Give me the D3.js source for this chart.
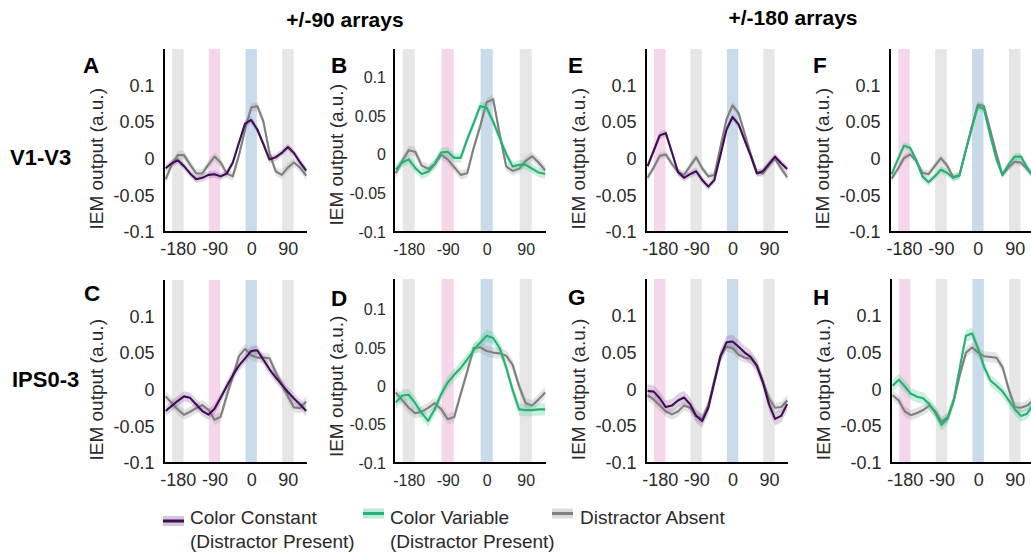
<!DOCTYPE html>
<html><head><meta charset="utf-8">
<script src="https://cdn.jsdelivr.net/npm/d3@7"></script>
<style>
body{margin:0;background:#fff;}
svg{display:block;}
text{font-family:"Liberation Sans",Arial,Helvetica,sans-serif;}
</style>
</head><body>
<svg id="chart" width="1031" height="554"></svg>
<script>
// ---------------- DATA ----------------
const angles = [-210,-195,-180,-165,-150,-135,-120,-105,-90,-75,-60,-45,-30,-15,0,15,30,45,60,75,90,105,120,135];
const xTicks = [-180,-90,0,90];
const xTickLabels = ["-180","-90","0","90"];
const yTicks = [-0.1,-0.05,0,0.05,0.1];
const yTickLabels = ["-0.1","-0.05","0","0.05","0.1"];
const bandCenters = [-180,-90,0,90];
const bands90 = ["grey","pink","blue","grey"];
const bands180 = ["pink","grey","blue","grey"];

const columnTitles = ["+/-90 arrays","+/-180 arrays"];
const rowTitles = ["V1-V3","IPS0-3"];
const seriesNames = ["Color Constant","Color Variable","Distractor Absent"];
const seriesNotes = ["(Distractor Present)","(Distractor Present)",""];

// V1-V3, +/-90
const A_constant = [-0.013,-0.006,-0.002,-0.010,-0.020,-0.028,-0.026,-0.022,-0.021,-0.024,-0.020,-0.005,0.022,0.048,0.053,0.040,0.020,-0.001,0.002,0.008,0.016,0.008,-0.005,-0.016];
const A_absent   = [-0.028,-0.008,0.005,0.005,-0.008,-0.020,-0.020,-0.008,0.003,-0.005,-0.020,-0.024,0.005,0.040,0.070,0.072,0.051,0.008,-0.017,-0.022,-0.012,-0.005,-0.012,-0.023];
const B_variable = [-0.019,-0.010,-0.006,-0.017,-0.025,-0.022,-0.012,0.003,0.004,-0.004,-0.004,0.020,0.041,0.063,0.061,0.043,0.022,0.001,-0.015,-0.013,-0.013,-0.018,-0.023,-0.025];
const B_absent   = [-0.024,-0.008,0.006,0.004,-0.014,-0.018,-0.012,0.000,-0.006,-0.016,-0.026,-0.024,0.009,0.037,0.068,0.072,0.027,-0.015,-0.021,-0.018,-0.008,-0.002,-0.010,-0.020];
// V1-V3, +/-180
const E_constant = [-0.010,0.011,0.032,0.035,0.009,-0.018,-0.026,-0.021,-0.017,-0.029,-0.038,-0.029,0.005,0.040,0.057,0.047,0.025,0.004,-0.020,-0.017,-0.007,0.003,-0.006,-0.014];
const E_absent   = [-0.026,-0.012,0.004,0.006,-0.007,-0.018,-0.022,-0.010,0.002,-0.013,-0.024,-0.022,0.016,0.054,0.073,0.062,0.034,0.006,-0.018,-0.020,-0.009,0.000,-0.013,-0.025];
const F_variable = [-0.021,-0.001,0.018,0.015,-0.002,-0.024,-0.032,-0.024,-0.015,-0.019,-0.026,-0.023,0.010,0.041,0.071,0.068,0.033,0.000,-0.022,-0.008,0.003,0.003,-0.012,-0.024];
const F_absent   = [-0.027,-0.014,0.001,0.006,-0.003,-0.019,-0.021,-0.010,0.001,-0.009,-0.025,-0.023,0.010,0.043,0.074,0.072,0.040,0.008,-0.022,-0.012,-0.004,-0.005,-0.014,-0.023];
// IPS0-3, +/-90
const C_constant = [-0.029,-0.022,-0.015,-0.009,-0.011,-0.020,-0.029,-0.034,-0.026,-0.011,0.005,0.020,0.033,0.043,0.053,0.054,0.041,0.028,0.017,0.007,-0.003,-0.012,-0.020,-0.029];
const C_absent   = [-0.009,-0.018,-0.027,-0.034,-0.030,-0.025,-0.021,-0.027,-0.041,-0.037,-0.008,0.018,0.046,0.056,0.047,0.044,0.044,0.043,0.024,0.008,-0.009,-0.024,-0.025,-0.016];
const D_variable = [-0.021,-0.012,-0.011,-0.022,-0.035,-0.045,-0.030,-0.010,0.005,0.015,0.024,0.035,0.047,0.057,0.066,0.063,0.050,0.025,-0.005,-0.030,-0.031,-0.031,-0.030,-0.030];
const D_absent   = [-0.008,-0.018,-0.028,-0.035,-0.033,-0.028,-0.022,-0.030,-0.043,-0.040,-0.010,0.019,0.050,0.051,0.046,0.044,0.043,0.040,0.028,0.000,-0.022,-0.025,-0.017,-0.008];
// IPS0-3, +/-180
const G_constant = [-0.002,-0.003,-0.012,-0.024,-0.022,-0.015,-0.011,-0.020,-0.036,-0.043,-0.025,0.010,0.045,0.064,0.065,0.058,0.050,0.044,0.032,0.010,-0.020,-0.040,-0.036,-0.020];
const G_absent   = [-0.008,-0.014,-0.022,-0.030,-0.034,-0.030,-0.022,-0.025,-0.036,-0.040,-0.022,0.012,0.045,0.058,0.056,0.047,0.043,0.042,0.033,0.010,-0.012,-0.025,-0.024,-0.015];
const H_variable = [0.005,0.013,0.004,-0.006,-0.010,-0.012,-0.020,-0.032,-0.048,-0.040,-0.015,0.030,0.073,0.076,0.055,0.030,0.012,0.005,-0.003,-0.015,-0.027,-0.036,-0.033,-0.020];
const H_absent   = [-0.008,-0.015,-0.030,-0.035,-0.032,-0.028,-0.022,-0.030,-0.044,-0.038,-0.015,0.020,0.050,0.057,0.050,0.045,0.044,0.043,0.030,0.000,-0.024,-0.025,-0.022,-0.015];

// standard errors (half-width of shaded band): [main series, distractor absent]
const seA = [0.005,0.006], seB = [0.006,0.006], seE = [0.005,0.005], seF = [0.005,0.005];
const seC = [0.007,0.007], seD = [0.008,0.007], seG = [0.009,0.007], seH = [0.008,0.007];

// ---------------- STYLE / LAYOUT ----------------
const colors = {
  constant: {line:"#3f0d52", fill:"#8a5a9c"},
  variable: {line:"#27b072", fill:"#3cc585"},
  absent:   {line:"#7f7f7f", fill:"#9a9a9a"}
};
const bandColors = {grey:"#e6e6e6", pink:"#f6d6ea", blue:"#c9dbea"};
const bandHalf = 14;
const xDomain = [-214, 137];
const textColor = "#2a2a2a";

const panels = [
  {id:"A", left:164, right:307, top:49,  bottom:232, yMax:0.15,  fs:18, lx:83,  ly:73,  bands:bands90,  main:A_constant, kind:"constant", abs:A_absent, se:seA},
  {id:"B", left:394, right:546, top:49,  bottom:232, yMax:0.137, fs:16, lx:331, ly:73,  bands:bands90,  main:B_variable, kind:"variable", abs:B_absent, se:seB},
  {id:"E", left:646, right:788, top:49,  bottom:232, yMax:0.15,  fs:18, lx:568, ly:73,  bands:bands180, main:E_constant, kind:"constant", abs:E_absent, se:seE},
  {id:"F", left:890, right:1034,top:49,  bottom:232, yMax:0.15,  fs:18, lx:813, ly:73,  bands:bands180, main:F_variable, kind:"variable", abs:F_absent, se:seF},
  {id:"C", left:164, right:307, top:280, bottom:463, yMax:0.15,  fs:18, lx:84,  ly:301, bands:bands90,  main:C_constant, kind:"constant", abs:C_absent, se:seC},
  {id:"D", left:394, right:546, top:279, bottom:463, yMax:0.14,  fs:16, lx:331, ly:306, bands:bands90,  main:D_variable, kind:"variable", abs:D_absent, se:seD},
  {id:"G", left:646, right:788, top:279, bottom:463, yMax:0.15,  fs:18, lx:568, ly:305, bands:bands180, main:G_constant, kind:"constant", abs:G_absent, se:seG},
  {id:"H", left:891, right:1034,top:279, bottom:463, yMax:0.15,  fs:18, lx:813, ly:305, bands:bands180, main:H_variable, kind:"variable", abs:H_absent, se:seH}
];

const svg = d3.select("#chart");
svg.append("rect").attr("width",1031).attr("height",554).attr("fill","#fff");

function drawPanel(p){
  const x = d3.scaleLinear().domain(xDomain).range([p.left, p.right]);
  const y = d3.scaleLinear().domain([-0.1, p.yMax]).range([p.bottom, p.top]);
  const g = svg.append("g");

  bandCenters.forEach((c,i)=>{
    g.append("rect")
      .attr("x", x(c-bandHalf)).attr("y", p.top)
      .attr("width", x(c+bandHalf)-x(c-bandHalf))
      .attr("height", p.bottom-p.top)
      .attr("fill", bandColors[p.bands[i]]);
  });

  const line = d3.line().x((d,i)=>x(angles[i])).y(d=>y(d));
  function series(vals, se, col){
    const area = d3.area().x((d,i)=>x(angles[i])).y0(d=>y(d-se)).y1(d=>y(d+se));
    g.append("path").datum(vals).attr("d", area).attr("fill", col.fill).attr("fill-opacity",0.28);
    g.append("path").datum(vals).attr("d", line).attr("fill","none")
      .attr("stroke", col.line).attr("stroke-width",2.1).attr("stroke-linejoin","round");
  }
  series(p.abs, p.se[1], colors.absent);
  series(p.main, p.se[0], colors[p.kind]);

  const yAxis = d3.axisLeft(y).tickValues(yTicks).tickSize(0)
    .tickPadding(p.fs===18?9.5:8).tickFormat((d,i)=>yTickLabels[i]);
  const ya = g.append("g").attr("transform",`translate(${p.left},0)`).call(yAxis);
  const xAxis = d3.axisBottom(x).tickValues(xTicks).tickSize(0)
    .tickPadding(23 - 0.71*p.fs).tickFormat((d,i)=>xTickLabels[i]);
  const xa = g.append("g").attr("transform",`translate(0,${p.bottom})`).call(xAxis);
  [ya,xa].forEach(a=>{
    a.select(".domain").attr("stroke","#000").attr("stroke-width",2);
    a.selectAll("text").attr("font-size",p.fs).attr("fill",textColor)
      .attr("font-family",'"Liberation Sans",Arial,sans-serif');
  });
  ya.select(".domain").attr("d",`M0,${p.top}V${p.bottom}`);
  xa.select(".domain").attr("d",`M${p.left-1},0H${p.right}`);

  const lxc = p.left - (p.fs===18?68:58);
  g.append("text")
    .attr("transform",`translate(${lxc},${y(0)}) rotate(-90)`)
    .attr("text-anchor","middle").attr("dominant-baseline","central")
    .attr("font-size",19).attr("fill",textColor)
    .text("IEM output (a.u.)");

  g.append("text").attr("x",p.lx).attr("y",p.ly)
    .attr("font-size",22.5).attr("font-weight","bold").attr("fill","#000")
    .text(p.id);
}
panels.forEach(drawPanel);

const colTitleX = [345, 793];
const colTitleY = [27, 25];
columnTitles.forEach((t,i)=>{
  svg.append("text").attr("x",colTitleX[i]).attr("y",colTitleY[i])
    .attr("text-anchor","middle").attr("font-size",21).attr("font-weight","bold")
    .attr("fill","#000").text(t);
});
const rowTitleX = [10, 12];
const rowTitleY = [165, 387];
rowTitles.forEach((t,i)=>{
  svg.append("text").attr("x",rowTitleX[i]).attr("y",rowTitleY[i])
    .attr("font-size",22).attr("font-weight","bold").attr("fill","#000").text(t);
});

const legendKinds = ["constant","variable","absent"];
const legSwX = [163, 363, 552];
const legSwY = [521, 513.5, 513.5];
const legTextX = [190, 390, 580];
legendKinds.forEach((k,i)=>{
  const lg = svg.append("g");
  lg.append("rect").attr("x",legSwX[i]).attr("y",legSwY[i]-5).attr("width",21).attr("height",10)
    .attr("fill",colors[k].fill).attr("fill-opacity",0.35);
  lg.append("line").attr("x1",legSwX[i]).attr("x2",legSwX[i]+21)
    .attr("y1",legSwY[i]).attr("y2",legSwY[i])
    .attr("stroke",colors[k].line).attr("stroke-width",3);
  lg.append("text").attr("x",legTextX[i]).attr("y",524).attr("font-size",19).attr("fill",textColor)
    .text(seriesNames[i]);
  if (seriesNotes[i]) {
    lg.append("text").attr("x",legTextX[i]).attr("y",548).attr("font-size",19).attr("fill",textColor)
      .text(seriesNotes[i]);
  }
});
</script>
</body></html>
